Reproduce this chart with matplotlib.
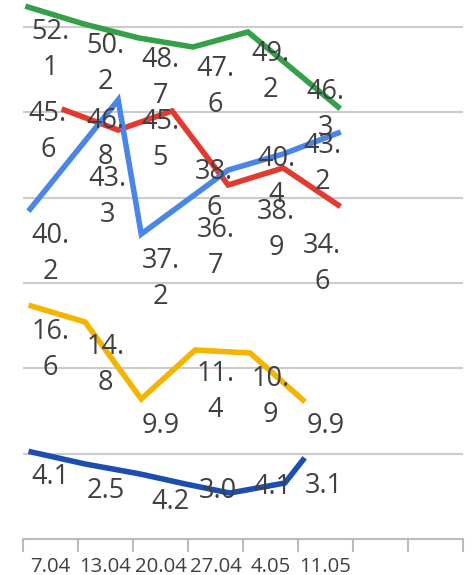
import matplotlib
matplotlib.use("Agg")
import matplotlib.pyplot as plt

# ---- data ----
categories = ["7.04", "13.04", "20.04", "27.04", "4.05", "11.05", "", ""]

# line vertices (x in category units, y in value units)
green_x = [-0.41, 0.61, 1.61, 2.59, 3.59, 5.23]
green_y = [62.35, 60.35, 58.71, 57.66, 59.42, 50.63]
red_x = [0.25, 1.23, 2.21, 3.23, 4.23, 5.23]
red_y = [50.28, 47.93, 50.16, 41.49, 43.48, 39.14]
blue_x = [-0.37, 1.23, 1.65, 3.23, 4.23, 5.23]
blue_y = [38.67, 51.45, 35.74, 43.24, 45.12, 47.58]
yellow_x = [-0.35, 0.63, 1.65, 2.63, 3.63, 4.59]
yellow_y = [27.31, 25.43, 16.41, 22.15, 21.80, 16.29]
navy_x = [-0.35, 0.63, 1.63, 2.45, 3.26, 4.26, 4.59]
navy_y = [10.20, 8.79, 7.62, 6.45, 5.39, 6.56, 9.26]

# data-label texts
green_labels = ["52.1", "50.2", "48.7", "47.6", "49.2", "46.3"]
red_labels = ["45.6", "46.8", "45.5", "38.6", "40.4", "34.6"]
blue_labels = ["40.2", "43.3", "37.2", "36.7", "38.9", "43.2"]
yellow_labels = ["16.6", "14.8", "9.9", "11.4", "10.9", "9.9"]
navy_labels = ["4.1", "2.5", "4.2", "3.0", "4.1", "3.1"]

# ---- layout of the labels (top of text, data units) ----
green_lpos = [(0, 61.06), (1, 59.42), (2, 57.78), (3, 56.72), (4, 58.48), (5, 54.03)]
red_lpos = [(-0.05, 51.45), (1, 50.63), (2, 50.51), (2.97, 44.65), (4.1, 46.17), (4.94, 35.98)]
blue_lpos = [(0, 37.15), (1.03, 43.83), (2, 34.22), (3, 37.85), (4.1, 39.96), (4.94, 47.70)]
yellow_lpos = [(0, 25.90), (1, 24.14), (2, 14.88), (3, 20.98), (4, 20.39), (5, 14.88)]
navy_lpos = [(0, 8.91), (1.01, 7.27), (2.19, 5.98), (3.05, 7.27), (4.03, 7.73), (4.97, 7.85)]

FONT = ["Open Sans", "DejaVu Sans"]
TXT = "#404040"

fig = plt.figure(figsize=(4.74, 5.75), dpi=100)
ax = fig.add_axes([23 / 474, 36 / 575, 440 / 474, 539 / 575])
ax.set_xlim(-0.5, 7.5)
ax.set_ylim(0, 539 / 8.533)

for yv in range(10, 70, 10):
    ax.axhline(yv, color="#cccccc", lw=1.5, zorder=1)

series = [
    (green_x, green_y, "#34a04a", green_labels, green_lpos),
    (red_x, red_y, "#e3392f", red_labels, red_lpos),
    (blue_x, blue_y, "#4a86e8", blue_labels, blue_lpos),
    (yellow_x, yellow_y, "#f4b400", yellow_labels, yellow_lpos),
    (navy_x, navy_y, "#1c4eb0", navy_labels, navy_lpos),
]
for xs, ys, col, labs, lpos in series:
    ax.plot(xs, ys, color=col, lw=4, solid_joinstyle="miter", zorder=3, clip_on=True)
for xs, ys, col, labs, lpos in series:
    for s, (lx, ly) in zip(labs, lpos):
        t = s.replace(".", ".\n") if len(s) > 3 else s
        ax.text(lx, ly, t, ha="center", va="top", fontsize=19.5, color=TXT,
                family=FONT, linespacing=1.4, zorder=4)

for sp in ["left", "right", "top"]:
    ax.spines[sp].set_visible(False)
ax.spines["bottom"].set_color("#bbbbbb")
ax.spines["bottom"].set_linewidth(1.5)
ax.set_yticks([])
ax.set_xticks([i - 0.5 for i in range(len(categories) + 1)])
ax.set_xticklabels([])
ax.set_xticks(range(len(categories)), minor=True)
ax.set_xticklabels(categories, minor=True, fontsize=14.7, color=TXT, family=FONT)
ax.tick_params(axis="x", which="major", length=9, width=1.5, color="#bbbbbb", direction="out")
ax.tick_params(axis="x", which="minor", length=0, pad=13)

fig.savefig("out.png", dpi=100)
